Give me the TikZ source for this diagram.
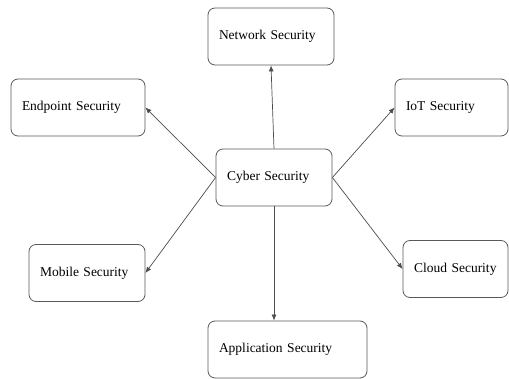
\documentclass[tikz,border=0pt]{standalone}
\usepackage{fontspec}
\setmainfont{Liberation Serif}
\usetikzlibrary{arrows.meta}
\begin{document}
\begin{tikzpicture}[
            x=1pt, y=-1pt,
            secbox/.style={draw=black!65, line width=0.8pt, rounded corners=7pt,
                minimum height=57pt, inner xsep=11pt, align=left,
                text width=#1-22pt, font=\fontsize{13.5}{16}\selectfont},
            link/.style={draw=black!70, line width=0.7pt, -{Latex[length=6pt,width=5pt]}}
        ]
            \useasboundingbox (0,0) rectangle (509,379);
            \node[secbox=116pt] (cyber) at (274,177.5) {Cyber Security};
            \node[secbox=126pt] (network) at (271,36.5) {Network Security};
            \node[secbox=134pt] (endpoint) at (78,107.5) {Endpoint Security};
            \node[secbox=113pt] (iot) at (451.5,107.5) {IoT Security};
            \node[secbox=116pt] (mobile) at (87,273) {Mobile Security};
            \node[secbox=105pt] (cloud) at (455.5,269) {Cloud Security};
            \node[secbox=159pt] (app) at (287.5,349.5) {Application Security};
            \draw[link] (cyber.north) -- (network.south);
            \draw[link] (cyber.west) -- (endpoint.east);
            \draw[link] (cyber.east) -- (iot.west);
            \draw[link] (cyber.west) -- (mobile.east);
            \draw[link] (cyber.east) -- (cloud.west);
            \draw[link] (cyber.south) -- (cyber.south |- app.north);
        \end{tikzpicture}
\end{document}
